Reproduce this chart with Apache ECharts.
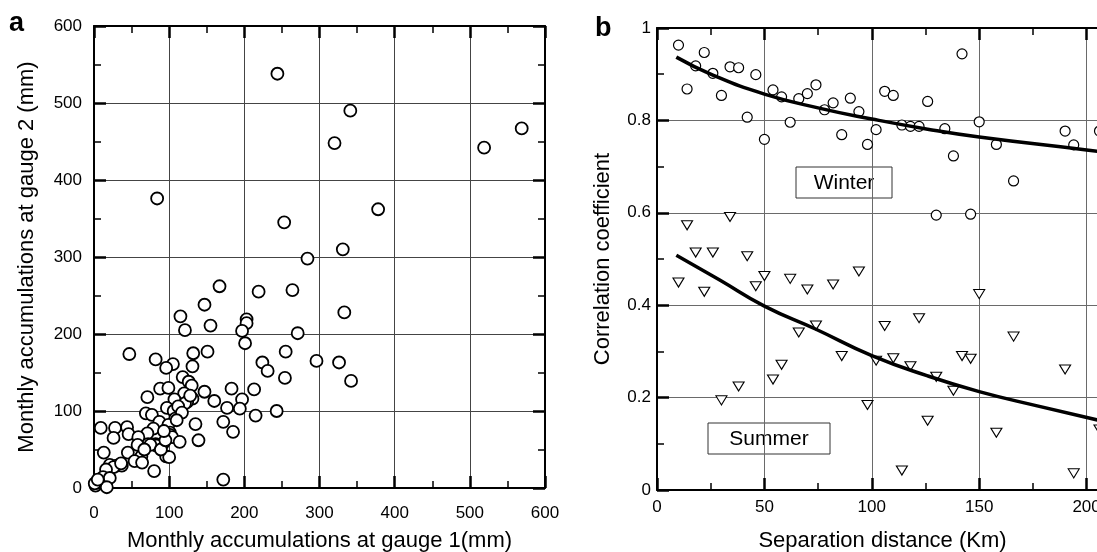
<!DOCTYPE html>
<html lang="en">

<head>
    <meta charset="UTF-8">
    <script src="https://cdn.jsdelivr.net/npm/echarts@6/dist/echarts.min.js"></script>
    <title>Gauge correlation</title>
    <style>
        html, body { margin: 0; padding: 0; background: #fff; }
        #chart { width: 1097px; height: 552px; }
    </style>
</head>

<body>
    <div id="chart"></div>

    <script type="text/javascript">
        // panel a: monthly accumulations, gauge 1 vs gauge 2 (mm)
        var gauge1Mm = [244, 341, 320, 519, 569, 84, 378, 253, 331, 284, 167, 219, 264, 147, 333, 115, 155, 121, 203, 203,
            197, 271, 201, 47, 132, 151, 255, 296, 326, 82, 224, 105, 96, 131, 231, 254, 342, 118, 126, 130,
            88, 99, 183, 213, 71, 147, 120, 107, 131, 160, 197, 124, 121, 177, 194, 243, 97, 106, 69, 77,
            215, 108, 172, 135, 87, 99, 185, 101, 9, 28, 44, 46, 79, 71, 26, 59, 101, 104, 139, 114,
            82, 72, 58, 88, 92, 13, 45, 96, 100, 63, 54, 64, 80, 83, 75, 21, 30, 37, 26, 16,
            12, 21, 172, 2, 6, 17, 1, 5, 89, 112, 117, 128, 95, 110, 93, 67, 36];
        var gauge2Mm = [538, 490, 448, 442, 467, 376, 362, 345, 310, 298, 262, 255, 257, 238, 228, 223, 211, 205, 219, 214,
            204, 201, 188, 174, 175, 177, 177, 165, 163, 167, 163, 161, 156, 158, 152, 143, 139, 144, 138, 133,
            129, 130, 129, 128, 118, 125, 123, 115, 116, 113, 115, 112, 110, 104, 103, 100, 104, 100, 97, 95,
            94, 90, 86, 83, 86, 82, 73, 72, 78, 78, 79, 70, 77, 71, 65, 66, 69, 66, 62, 60,
            57, 57, 56, 52, 58, 46, 46, 41, 40, 41, 35, 33, 22, 55, 56, 30, 29, 29, 27, 24,
            14, 13, 11, 3, 7, 1, 6, 11, 50, 106, 98, 120, 62, 88, 74, 50, 32];

        // panel b: correlation coefficient vs separation distance (km)
        var winterKm = [10, 14, 18, 22, 26, 30, 34, 38, 42, 46, 50, 54, 58, 62, 66, 70, 74, 78, 82, 86,
            90, 94, 98, 102, 106, 110, 114, 118, 122, 126, 130, 134, 138, 142, 146, 150, 158, 166, 190, 194, 206];
        var winterCorr = [0.963, 0.868, 0.918, 0.947, 0.902, 0.854, 0.916, 0.914, 0.807, 0.899, 0.759, 0.866, 0.851, 0.796, 0.847, 0.858, 0.877, 0.823, 0.838, 0.769,
            0.848, 0.819, 0.748, 0.780, 0.863, 0.854, 0.790, 0.787, 0.787, 0.841, 0.595, 0.782, 0.723, 0.944, 0.597, 0.797, 0.748, 0.669, 0.777, 0.747, 0.777];
        var summerKm = [10, 14, 18, 22, 26, 30, 34, 38, 42, 46, 50, 54, 58, 62, 66, 70, 74, 82, 86, 94,
            98, 102, 106, 110, 114, 118, 122, 126, 130, 138, 142, 146, 150, 158, 166, 190, 194, 206];
        var summerCorr = [0.449, 0.573, 0.514, 0.429, 0.514, 0.194, 0.591, 0.224, 0.506, 0.441, 0.463, 0.239, 0.271, 0.457, 0.341, 0.434, 0.356, 0.445, 0.290, 0.473,
            0.184, 0.280, 0.355, 0.285, 0.042, 0.268, 0.372, 0.150, 0.245, 0.215, 0.290, 0.284, 0.424, 0.124, 0.332, 0.261, 0.036, 0.131];

        // fitted curves
        var winterFitKm = [9, 26, 50, 76, 100, 126, 150, 200, 212];
        var winterFitCorr = [0.937, 0.898, 0.857, 0.826, 0.803, 0.781, 0.764, 0.736, 0.729];
        var summerFitKm = [9, 29, 50, 74, 100, 126, 150, 177, 212];
        var summerFitCorr = [0.508, 0.455, 0.398, 0.348, 0.291, 0.247, 0.213, 0.182, 0.144];

        function pairs(xs, ys) {
            return xs.map(function (x, i) { return [x, ys[i]]; });
        }

        var FONT = 'Liberation Sans, Arial, sans-serif';

        function mainAxis(o) {
            return Object.assign({
                type: 'value',
                axisLine: { show: true, onZero: false, lineStyle: { color: '#000', width: 2 } },
                axisTick: { show: true, inside: true, length: 12, lineStyle: { color: '#000', width: 2.5 } },
                minorTick: { show: true, splitNumber: 2, length: 7, lineStyle: { color: '#000', width: 1.5 } },
                axisLabel: { color: '#000', fontSize: 17, fontFamily: FONT },
                nameLocation: 'middle',
                nameTextStyle: { color: '#000', fontSize: 22, fontFamily: FONT }
            }, o);
        }

        function mirrorAxis(o) {
            return mainAxis(Object.assign({
                axisLabel: { show: false },
                splitLine: { show: false }
            }, o));
        }

        var chart = echarts.init(document.getElementById('chart'));

        var option = {
            animation: false,
            textStyle: { fontFamily: FONT },
            grid: [
                { left: 94, top: 26, width: 451, height: 462, outerBoundsMode: 'none', containLabel: false },
                { left: 657, top: 28, width: 537, height: 462, outerBoundsMode: 'none', containLabel: false }
            ],
            xAxis: [
                mainAxis({
                    gridIndex: 0, position: 'bottom', min: 0, max: 600, interval: 100,
                    name: 'Monthly accumulations at gauge 1(mm)', nameGap: 42,
                    axisLabel: { color: '#000', fontSize: 17, fontFamily: FONT, margin: 17 },
                    splitLine: { show: true, lineStyle: { color: '#444', width: 1 } }
                }),
                mirrorAxis({ gridIndex: 0, position: 'top', min: 0, max: 600, interval: 100 }),
                mainAxis({
                    gridIndex: 1, position: 'bottom', min: 0, max: 250, interval: 50,
                    name: 'Separation distance (Km)', nameGap: 40,
                    // the picture is cropped on the right; title sits over the visible part
                    nameTextStyle: { color: '#000', fontSize: 22, fontFamily: FONT, padding: [0, 86, 0, 0] },
                    axisLabel: { color: '#000', fontSize: 17, fontFamily: FONT, margin: 9 },
                    splitLine: { show: true, lineStyle: { color: '#6a6a6a', width: 1 } }
                }),
                mirrorAxis({ gridIndex: 1, position: 'top', min: 0, max: 250, interval: 50 })
            ],
            yAxis: [
                mainAxis({
                    gridIndex: 0, position: 'left', min: 0, max: 600, interval: 100,
                    name: 'Monthly accumulations at gauge 2 (mm)', nameGap: 56,
                    axisLabel: { color: '#000', fontSize: 17, fontFamily: FONT, margin: 12 },
                    splitLine: { show: true, lineStyle: { color: '#444', width: 1 } }
                }),
                mirrorAxis({ gridIndex: 0, position: 'right', min: 0, max: 600, interval: 100 }),
                mainAxis({
                    gridIndex: 1, position: 'left', min: 0, max: 1, interval: 0.2,
                    name: 'Correlation coefficient', nameGap: 43,
                    axisLabel: { color: '#000', fontSize: 17, fontFamily: FONT, margin: 6 },
                    splitLine: { show: true, lineStyle: { color: '#6a6a6a', width: 1 } }
                }),
                mirrorAxis({ gridIndex: 1, position: 'right', min: 0, max: 1, interval: 0.2 })
            ],
            series: [
                {
                    name: 'gauges',
                    type: 'scatter',
                    xAxisIndex: 0, yAxisIndex: 0,
                    clip: false,
                    symbol: 'circle',
                    symbolSize: 12,
                    itemStyle: { color: '#fff', borderColor: '#000', borderWidth: 1.8, opacity: 1 },
                    data: pairs(gauge1Mm, gauge2Mm)
                },
                {
                    name: 'Winter',
                    type: 'scatter',
                    xAxisIndex: 2, yAxisIndex: 2,
                    clip: false,
                    symbol: 'circle',
                    symbolSize: 10,
                    itemStyle: { color: '#fff', borderColor: '#000', borderWidth: 1.2, opacity: 1 },
                    data: pairs(winterKm, winterCorr)
                },
                {
                    name: 'Summer',
                    type: 'scatter',
                    xAxisIndex: 2, yAxisIndex: 2,
                    clip: false,
                    symbol: 'triangle',
                    symbolRotate: 180,
                    symbolSize: [11, 9],
                    itemStyle: { color: '#fff', borderColor: '#000', borderWidth: 1.1, opacity: 1 },
                    data: pairs(summerKm, summerCorr)
                },
                {
                    name: 'Winter fit',
                    type: 'line',
                    xAxisIndex: 2, yAxisIndex: 2,
                    smooth: true,
                    showSymbol: false,
                    lineStyle: { color: '#000', width: 3.5 },
                    data: pairs(winterFitKm, winterFitCorr)
                },
                {
                    name: 'Summer fit',
                    type: 'line',
                    xAxisIndex: 2, yAxisIndex: 2,
                    smooth: true,
                    showSymbol: false,
                    lineStyle: { color: '#000', width: 3.5 },
                    data: pairs(summerFitKm, summerFitCorr)
                }
            ],
            graphic: [
                { type: 'text', left: 9, top: 10, style: { text: 'a', fontSize: 27, fontWeight: 'bold', fontFamily: FONT, fill: '#000' } },
                { type: 'text', left: 595, top: 15, style: { text: 'b', fontSize: 27, fontWeight: 'bold', fontFamily: FONT, fill: '#000' } },
                { type: 'rect', shape: { x: 796, y: 167, width: 96, height: 31 }, style: { fill: '#fff', stroke: '#333', lineWidth: 1 } },
                { type: 'text', x: 844, y: 183, style: { text: 'Winter', fontSize: 21, fontFamily: FONT, fill: '#000', align: 'center', verticalAlign: 'middle' } },
                { type: 'rect', shape: { x: 708, y: 423, width: 122, height: 31 }, style: { fill: '#fff', stroke: '#333', lineWidth: 1 } },
                { type: 'text', x: 769, y: 439, style: { text: 'Summer', fontSize: 21, fontFamily: FONT, fill: '#000', align: 'center', verticalAlign: 'middle' } }
            ]
        };

        chart.setOption(option);
    </script>
</body>

</html>
